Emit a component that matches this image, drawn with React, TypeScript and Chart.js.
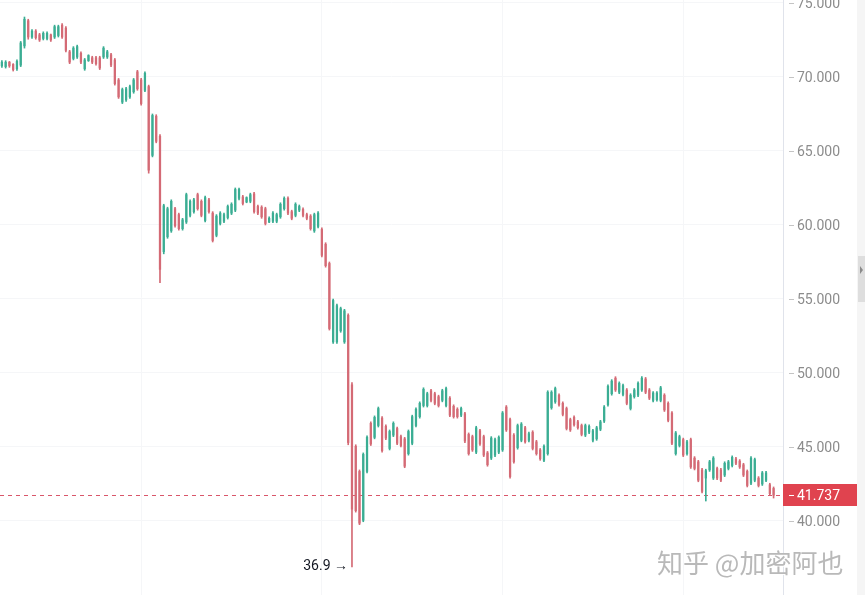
import React, { useEffect, useRef } from "react";
import { Chart, registerables } from "chart.js";

Chart.register(...registerables);

// ---- data (BTC-like price, thousands) ----
const OPENS = [
  70.75, 70.7, 71.0, 70.85, 70.55, 70.8, 72.1, 73.8, 72.7, 73.1,
  72.85, 72.6, 72.6, 72.85, 72.7, 72.8, 73.5, 73.3, 71.7, 71.25,
  71.35, 71.6, 70.55, 71.1, 71.3, 71.3, 71.3, 71.35, 71.35, 71.5,
  71.15, 69.8, 68.3, 68.45, 68.65, 69.0, 70.35, 69.8, 69.1, 69.35,
  64.7, 67.35, 66.0, 58.2, 59.2, 59.6, 61.1, 60.7, 59.75, 60.2,
  60.65, 60.9, 62.05, 61.6, 60.3, 61.7, 60.8, 59.3, 60.1, 60.25,
  60.5, 60.8, 61.0, 61.8, 61.9, 61.55, 61.6, 62.1, 61.25, 61.2,
  61.1, 60.2, 60.25, 60.25, 60.55, 61.1, 61.8, 60.9, 60.65, 61.0,
  61.05, 60.7, 60.6, 59.6, 59.9, 59.7, 58.7, 57.4, 52.1, 52.1,
  52.85, 52.1, 53.9, 49.2, 45.05, 43.35, 40.05, 43.35, 46.6, 45.65,
  46.45, 46.95, 46.4, 44.9, 45.8, 46.25, 45.7, 45.55, 44.55, 45.25,
  46.45, 47.05, 47.8, 47.8, 48.8, 48.6, 48.4, 48.15, 47.8, 48.3,
  47.75, 47.55, 47.15, 47.25, 45.85, 45.7, 44.65, 46.1, 45.7, 44.6,
  44.25, 44.45, 44.65, 44.8, 47.7, 46.85, 45.8, 44.95, 45.45, 46.3,
  45.45, 46.0, 45.35, 44.8, 44.1, 44.55, 47.65, 48.05, 48.5, 47.95,
  47.6, 46.85, 47.0, 46.7, 46.45, 45.8, 46.0, 45.45, 45.55, 46.2,
  46.75, 47.85, 48.6, 49.65, 48.7, 48.55, 48.85, 47.6, 48.4, 48.5,
  48.85, 49.6, 48.85, 48.15, 48.2, 48.15, 48.5, 47.95, 47.3, 44.55,
  45.1, 45.5, 44.55, 45.5, 44.25, 44.0, 43.45, 42.9, 43.45, 42.9,
  43.55, 43.45, 43.1, 43.55, 43.75, 44.2, 44.05, 43.8, 43.35, 42.55,
  42.75, 42.9, 42.5, 42.75, 42.45, 42.2,
];
const HIGHS = [
  71.1, 71.1, 71.05, 70.9, 71.15, 72.4, 74.05, 73.9, 73.2, 73.2,
  72.95, 73.05, 73.05, 72.9, 73.5, 73.5, 73.6, 73.4, 71.8, 72.05,
  72.15, 71.7, 71.25, 71.5, 71.4, 71.4, 71.4, 72.05, 71.8, 71.6,
  71.25, 69.9, 69.25, 69.3, 69.45, 69.9, 70.45, 69.9, 70.35, 69.45,
  67.5, 67.45, 66.1, 61.4, 61.2, 61.7, 61.2, 60.8, 60.45, 62.15,
  61.7, 61.8, 62.15, 61.7, 61.95, 61.8, 60.9, 60.7, 60.9, 60.8,
  61.35, 61.5, 62.5, 62.5, 62.0, 61.9, 62.15, 62.2, 61.35, 61.3,
  61.2, 60.55, 60.9, 60.8, 61.5, 61.9, 61.9, 61.0, 61.5, 61.35,
  61.15, 60.8, 60.7, 60.8, 60.9, 59.8, 58.8, 57.5, 55.0, 54.65,
  54.45, 54.3, 54.0, 49.35, 45.15, 43.45, 44.6, 45.75, 46.7, 47.1,
  47.7, 47.05, 46.5, 46.15, 46.7, 46.35, 45.8, 45.65, 46.15, 47.15,
  47.65, 48.05, 49.0, 48.7, 48.9, 48.7, 48.5, 48.9, 49.05, 48.4,
  47.85, 47.65, 47.7, 47.35, 45.95, 45.8, 46.4, 46.2, 45.8, 44.7,
  45.7, 45.6, 45.75, 47.4, 47.8, 46.95, 45.9, 46.55, 46.65, 46.4,
  46.0, 46.1, 45.45, 44.9, 45.15, 48.8, 48.8, 49.05, 48.6, 48.05,
  47.7, 46.95, 47.1, 46.8, 46.55, 46.55, 46.5, 46.2, 46.4, 46.8,
  47.8, 49.2, 49.55, 49.75, 49.4, 49.25, 48.95, 48.6, 48.95, 49.4,
  49.75, 49.7, 48.95, 48.75, 48.75, 49.1, 48.6, 48.05, 47.4, 46.05,
  45.8, 45.6, 45.45, 45.6, 44.35, 44.1, 43.55, 43.5, 44.1, 44.35,
  43.65, 43.55, 44.0, 44.1, 44.4, 44.3, 44.15, 43.9, 43.45, 44.35,
  44.25, 43.0, 43.35, 43.35, 42.55, 42.3,
];
const LOWS = [
  70.65, 70.6, 70.65, 70.4, 70.45, 70.7, 71.95, 72.55, 72.6, 72.55,
  72.4, 72.5, 72.5, 72.4, 72.6, 72.7, 72.6, 71.7, 70.9, 71.15,
  71.25, 70.9, 70.45, 71.05, 70.9, 70.8, 70.5, 71.25, 71.25, 70.7,
  69.45, 68.55, 68.2, 68.35, 68.55, 68.9, 69.1, 68.1, 69.0, 63.5,
  64.6, 65.55, 56.1, 58.05, 59.1, 59.5, 59.85, 59.65, 59.65, 60.1,
  60.55, 60.8, 61.0, 60.55, 60.2, 60.8, 58.85, 59.2, 60.0, 60.15,
  60.4, 60.7, 60.9, 61.7, 61.35, 61.5, 61.5, 60.8, 60.7, 60.45,
  60.0, 60.15, 60.15, 60.15, 60.45, 61.0, 60.7, 60.35, 60.55, 60.9,
  60.55, 60.35, 59.65, 59.5, 59.8, 57.85, 57.15, 52.9, 52.0, 52.0,
  52.75, 52.0, 45.15, 36.9, 40.6, 39.75, 39.95, 43.25, 45.1, 45.55,
  46.35, 44.65, 45.5, 44.8, 45.7, 45.15, 45.0, 43.6, 44.45, 45.15,
  46.35, 46.95, 47.7, 47.7, 48.05, 47.85, 47.7, 48.05, 47.7, 47.05,
  46.95, 46.95, 47.05, 45.3, 44.45, 44.7, 44.55, 45.1, 44.35, 43.7,
  44.15, 44.35, 44.55, 44.7, 46.05, 42.9, 43.9, 44.85, 45.35, 45.25,
  45.35, 44.8, 44.45, 44.1, 44.0, 44.45, 47.55, 47.95, 47.75, 47.1,
  46.15, 46.05, 46.4, 46.2, 45.75, 45.7, 45.9, 45.35, 45.45, 46.1,
  46.65, 47.75, 48.5, 48.75, 48.6, 48.45, 47.85, 47.5, 48.3, 48.4,
  48.75, 48.6, 48.2, 48.05, 48.1, 48.05, 47.4, 46.7, 45.15, 44.45,
  45.0, 44.35, 44.45, 43.55, 43.45, 42.65, 41.9, 41.35, 43.35, 42.8,
  42.8, 42.65, 43.0, 43.45, 43.65, 43.8, 43.55, 43.0, 42.3, 42.45,
  42.65, 42.3, 42.4, 42.65, 41.75, 41.55,
];
const CLOSES = [
  71.0, 71.0, 70.75, 70.5, 71.05, 72.3, 73.9, 72.7, 73.1, 72.65,
  72.5, 72.95, 72.95, 72.5, 73.4, 73.4, 72.7, 71.8, 71.0, 71.95,
  72.05, 71.0, 71.15, 71.45, 71.0, 70.9, 70.6, 71.95, 71.7, 70.8,
  69.55, 68.65, 69.15, 69.2, 69.35, 69.8, 69.2, 68.2, 70.25, 63.7,
  67.4, 65.65, 57.0, 61.3, 61.1, 61.6, 59.95, 59.75, 60.35, 62.05,
  61.6, 61.7, 61.1, 60.65, 61.85, 60.9, 58.95, 60.6, 60.8, 60.7,
  61.25, 61.4, 62.4, 62.4, 61.45, 61.85, 62.05, 60.9, 60.8, 60.55,
  60.1, 60.45, 60.8, 60.7, 61.4, 61.8, 60.8, 60.45, 61.4, 61.25,
  60.65, 60.45, 59.75, 60.7, 60.8, 57.95, 57.25, 53.0, 54.9, 54.55,
  54.35, 54.2, 45.3, 40.8, 40.7, 39.85, 44.5, 45.65, 45.2, 47.0,
  47.6, 44.75, 45.6, 46.05, 46.6, 45.25, 45.1, 43.7, 46.05, 47.05,
  47.55, 47.95, 48.9, 48.6, 48.15, 47.95, 47.8, 48.8, 48.95, 47.15,
  47.05, 47.05, 47.6, 45.4, 44.55, 44.8, 46.3, 45.2, 44.45, 43.8,
  45.6, 45.5, 45.65, 47.3, 46.15, 43.0, 44.0, 46.45, 46.55, 45.35,
  45.9, 44.9, 44.55, 44.2, 45.05, 48.7, 48.7, 48.95, 47.85, 47.2,
  46.25, 46.15, 46.5, 46.3, 45.85, 46.45, 46.4, 46.1, 46.3, 46.7,
  47.7, 49.1, 49.45, 48.85, 49.3, 49.15, 47.95, 48.5, 48.85, 49.3,
  49.65, 48.7, 48.3, 48.65, 48.65, 49.0, 47.5, 46.8, 45.25, 45.95,
  45.7, 44.45, 45.35, 43.65, 43.55, 42.75, 42.0, 43.4, 44.0, 44.25,
  42.9, 42.75, 43.9, 44.0, 44.3, 43.9, 43.65, 43.1, 42.4, 44.25,
  44.15, 42.4, 43.25, 43.25, 41.85, 41.737,
];

const Y_TICKS = [40, 45, 50, 55, 60, 65, 70, 75];
const Y_MIN = 35.0;
const Y_MAX = 75.2;
const LAST_PRICE = 41.737;
const LOW_MARK_INDEX = 93;
const LOW_MARK_TEXT = "36.9 →";
const WATERMARK = "知乎 @加密阿也";
const RIGHT_OFFSET_LABELS = [" ", "  "];
const V_GRID_EVERY = 48;
const V_GRID_PHASE = 37;

const UP = "#3aad93";
const DOWN = "#d46a75";
const PRICE_LINE = "#d9566a";
const PRICE_BOX = "#e0434f";
const GRID = "#f5f6f8";
const AXIS_FONT = "14px Roboto, 'Noto Sans', sans-serif";

const overlay = {
  id: "overlay",
  beforeDatasetsDraw(chart: any) {
    const { ctx, chartArea, scales } = chart;
    const py = Math.round(scales.y.getPixelForValue(LAST_PRICE)) + 0.5;
    ctx.save();
    ctx.strokeStyle = PRICE_LINE;
    ctx.lineWidth = 1;
    ctx.setLineDash([4, 4]);
    ctx.beginPath();
    ctx.moveTo(chartArea.left, py);
    ctx.lineTo(chartArea.right, py);
    ctx.stroke();
    ctx.restore();
  },
  afterDraw(chart: any) {
    const { ctx, chartArea, scales, width, height } = chart;
    const x = scales.x;
    const y = scales.y;
    ctx.save();
    // price axis: tick dashes and labels
    ctx.strokeStyle = "#c4c4c4";
    ctx.lineWidth = 1;
    ctx.font = AXIS_FONT;
    ctx.textAlign = "left";
    ctx.textBaseline = "middle";
    ctx.fillStyle = "#8c8c8c";
    Y_TICKS.forEach((v) => {
      const py = Math.round(y.getPixelForValue(v)) + 0.5;
      ctx.beginPath();
      ctx.moveTo(chartArea.right + 6, py);
      ctx.lineTo(chartArea.right + 11, py);
      ctx.stroke();
      ctx.fillText(v.toFixed(3), chartArea.right + 14, py + 1);
    });
    // current price label
    const pp = Math.round(y.getPixelForValue(LAST_PRICE));
    ctx.fillStyle = PRICE_BOX;
    ctx.fillRect(chartArea.right, pp - 11, y.width, 22);
    ctx.strokeStyle = "#ffffff";
    ctx.beginPath();
    ctx.moveTo(chartArea.right + 6, pp + 0.5);
    ctx.lineTo(chartArea.right + 11, pp + 0.5);
    ctx.stroke();
    ctx.fillStyle = "#ffffff";
    ctx.fillText(LAST_PRICE.toFixed(3), chartArea.right + 14, pp + 1);
    // low annotation
    const lx = x.getPixelForValue(LOW_MARK_INDEX);
    const ly = y.getPixelForValue(LOWS[LOW_MARK_INDEX]);
    ctx.fillStyle = "#131722";
    ctx.font = "14px Roboto, 'Noto Sans', sans-serif";
    ctx.textAlign = "right";
    ctx.fillText(LOW_MARK_TEXT, lx - 4, ly);
    // right scroll strip
    ctx.fillStyle = "#f5f5f5";
    ctx.fillRect(width - 8, 0, 8, height);
    ctx.fillStyle = "#dedede";
    ctx.fillRect(width - 7, 256, 7, 46);
    ctx.fillStyle = "#8a8a8a";
    ctx.beginPath();
    ctx.moveTo(width - 5, 266);
    ctx.lineTo(width - 2, 270);
    ctx.lineTo(width - 5, 274);
    ctx.closePath();
    ctx.fill();
    // watermark
    ctx.font = "26px 'Noto Sans CJK SC', sans-serif";
    ctx.textAlign = "left";
    ctx.textBaseline = "alphabetic";
    ctx.fillStyle = "rgba(255,255,255,0.9)";
    ctx.fillText(WATERMARK, width - 206, height - 21);
    ctx.fillStyle = "#b9b9b9";
    ctx.fillText(WATERMARK, width - 208, height - 22);
    ctx.restore();
  },
};

export default function App() {
  const ref = useRef<HTMLCanvasElement>(null);
  useEffect(() => {
    document.body.style.margin = "0";
    const canvas = ref.current!;
    const labels = OPENS.map((_, i) => `#${i + 1}`).concat(RIGHT_OFFSET_LABELS);
    const colors = OPENS.map((o, i) => (CLOSES[i] >= o ? UP : DOWN));
    const chart = new Chart(canvas, {
      type: "bar",
      data: {
        labels,
        datasets: [
          {
            label: "wick",
            data: LOWS.map((l, i) => [l, HIGHS[i]]) as any,
            backgroundColor: colors,
            borderWidth: 0,
            barThickness: 1,
            grouped: false,
            order: 2,
          } as any,
          {
            label: "body",
            data: OPENS.map((o, i) => [o, CLOSES[i]]) as any,
            backgroundColor: colors,
            borderWidth: 0,
            barThickness: 1.6,
            grouped: false,
            order: 1,
          } as any,
        ],
      },
      options: {
        animation: false,
        responsive: false,
        maintainAspectRatio: false,
        layout: { padding: { left: 0, right: 8, top: 0, bottom: 0 } },
        plugins: { legend: { display: false }, tooltip: { enabled: false } },
        scales: {
          x: {
            display: true,
            offset: true,
            grid: {
              offset: false,
              drawTicks: false,
              color: (c: any) => (c.index % V_GRID_EVERY === V_GRID_PHASE ? GRID : "rgba(0,0,0,0)"),
            },
            border: { display: false },
            ticks: { display: false },
          },
          y: {
            position: "right",
            min: Y_MIN,
            max: Y_MAX,
            afterBuildTicks: (s: any) => {
              s.ticks = Y_TICKS.map((v) => ({ value: v }));
            },
            afterFit: (s: any) => {
              s.width = 74;
              s.paddingTop = 0;
              s.paddingBottom = 0;
            },
            grid: { color: GRID, drawTicks: false },
            border: { display: true, color: "#e0e3eb" },
            ticks: { display: false },
          },
        },
      } as any,
      plugins: [overlay],
    });
    return () => chart.destroy();
  }, []);
  return (
    <div style={{ width: 865, height: 595, position: "relative" }}>
      <canvas ref={ref} width={865} height={595} style={{ width: 865, height: 595, display: "block" }} />
    </div>
  );
}
